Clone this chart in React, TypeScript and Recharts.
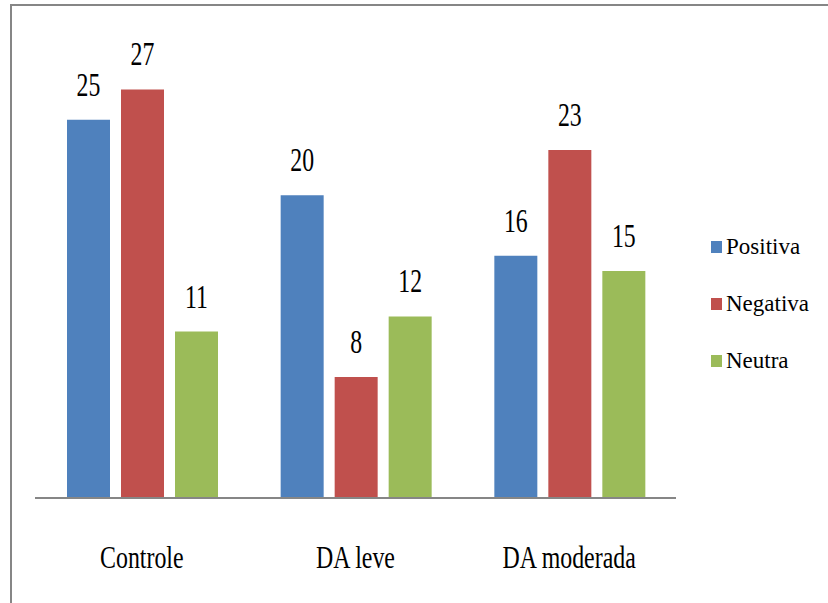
import { BarChart, Bar, XAxis, YAxis, Legend, LabelList } from "recharts";

const categories = ["Controle", "DA leve", "DA moderada"];
const positiva = [25, 20, 16];
const negativa = [27, 8, 23];
const neutra = [11, 12, 15];

const series = [
  { key: "Positiva", values: positiva, color: "#4F81BD" },
  { key: "Negativa", values: negativa, color: "#C0504D" },
  { key: "Neutra", values: neutra, color: "#9BBB59" },
];

const data = categories.map((c, i) => ({
  name: c,
  Positiva: positiva[i],
  Negativa: negativa[i],
  Neutra: neutra[i],
}));

const FONT = "Times, Tinos, 'Noto Serif', FreeSerif, 'DejaVu Serif', serif";

// texto "espremido" horizontalmente, como no original
const SquishText = ({ x, y, size, sx, children }: any) => (
  <text
    transform={`translate(${x},${y}) scale(${sx},1)`}
    textAnchor="middle"
    fontSize={size}
    style={{ fontFamily: FONT }}
    fill="#000"
  >
    {children}
  </text>
);

const ValueLabel = (props: any) => {
  const { x, y, width, value } = props;
  return (
    <SquishText x={x + width / 2} y={y - 24} size={34} sx={0.7}>
      {value}
    </SquishText>
  );
};

const CategoryTick = (props: any) => {
  const { x, y, payload } = props;
  return (
    <SquishText x={x} y={y + 62} size={31} sx={0.77}>
      {payload.value}
    </SquishText>
  );
};

const LegendContent = () => (
  <div style={{ fontFamily: FONT, fontSize: 23, color: "#000" }}>
    {series.map((s) => (
      <div
        key={s.key}
        style={{ display: "flex", alignItems: "center", height: 57 }}
      >
        <span
          style={{
            display: "inline-block",
            width: 11,
            height: 12,
            background: s.color,
            marginRight: 4,
          }}
        />
        <span>{s.key}</span>
      </div>
    ))}
  </div>
);

export default function App() {
  return (
    <div
      style={{
        position: "absolute",
        left: 0,
        top: 0,
        width: 828,
        height: 603,
        background: "#fff",
      }}
    >
      <div
        style={{
          position: "absolute",
          left: 10,
          top: 4,
          right: 0,
          bottom: 0,
          borderLeft: "2px solid #868686",
          borderTop: "2px solid #868686",
        }}
      />
      <div style={{ position: "absolute", left: 0, top: 0 }}>
        <BarChart
          width={828}
          height={603}
          data={data}
          margin={{ top: 44, right: 152, bottom: 45, left: 35 }}
          barGap={11}
          barCategoryGap={32}
        >
          <XAxis
            dataKey="name"
            height={60}
            tickLine={false}
            axisLine={{ stroke: "#868686", strokeWidth: 2 }}
            tick={<CategoryTick />}
            interval={0}
          />
          <YAxis hide domain={[0, 30]} />
          <Legend
            layout="vertical"
            align="center"
            verticalAlign="middle"
            wrapperStyle={{ left: 711, top: 218, width: 117 }}
            content={<LegendContent />}
          />
          {series.map((s) => (
            <Bar
              key={s.key}
              dataKey={s.key}
              fill={s.color}
              isAnimationActive={false}
            >
              <LabelList dataKey={s.key} content={<ValueLabel />} />
            </Bar>
          ))}
        </BarChart>
      </div>
    </div>
  );
}
